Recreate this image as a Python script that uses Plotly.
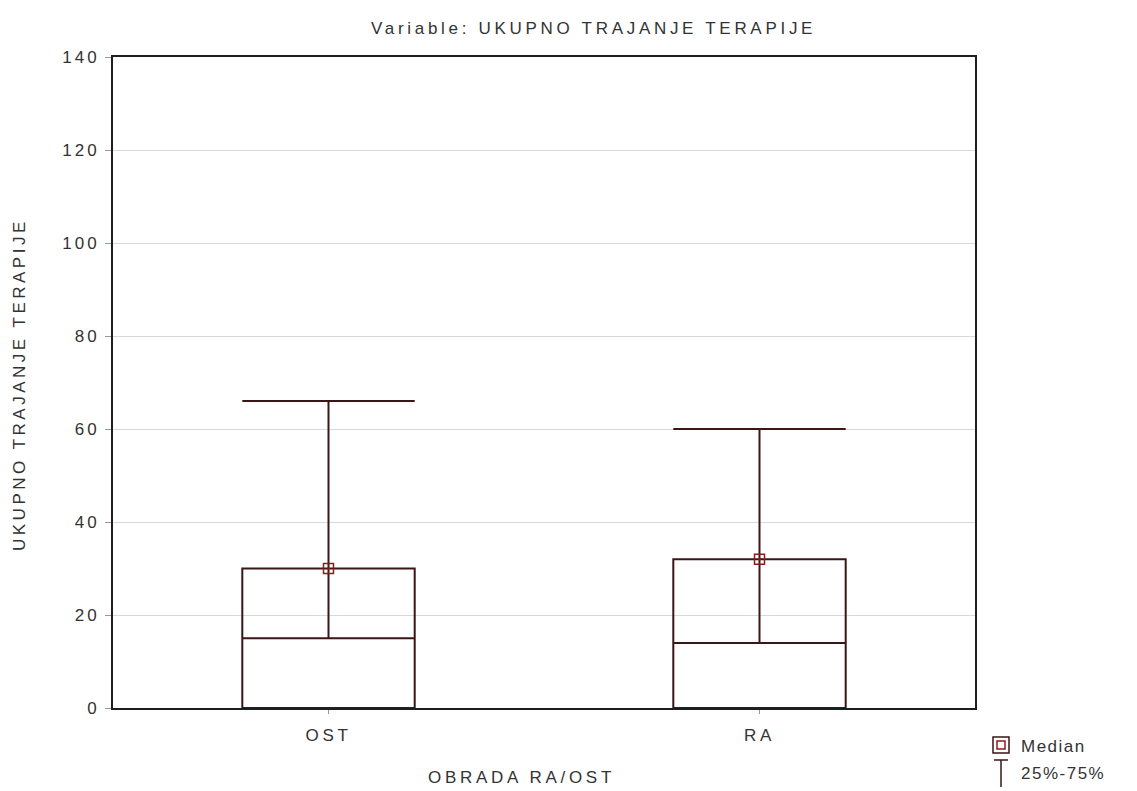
import plotly.graph_objects as go

categories = ["OST", "RA"]
box_bottom = [0, 0]
box_top = [30, 32]
mid_line = [15, 14]
whisker_top = [66, 60]
median = [30, 32]
y_ticks = [0, 20, 40, 60, 80, 100, 120, 140]

LINE = "#3a1616"
MED = "#8b1c1c"
TXT = "#333333"
FAM = "Liberation Sans, Arial, sans-serif"
W = 0.2
FS = 17
LS = 3.7


def sp(t, ls=LS):
    return f'<span style="letter-spacing:{ls}px">{t}</span>'


fig = go.Figure()
for i, c in enumerate(categories):
    fig.add_trace(go.Scatter(
        x=[i - W, i + W, i + W, i - W, i - W],
        y=[box_bottom[i], box_bottom[i], box_top[i], box_top[i], box_bottom[i]],
        mode="lines", line=dict(color=LINE, width=2), showlegend=False, hoverinfo="skip"))
    fig.add_trace(go.Scatter(
        x=[i - W, i + W], y=[mid_line[i], mid_line[i]],
        mode="lines", line=dict(color=LINE, width=2), showlegend=False, hoverinfo="skip"))
    fig.add_trace(go.Scatter(
        x=[i, i, None, i - W, i + W],
        y=[mid_line[i], whisker_top[i], None, whisker_top[i], whisker_top[i]],
        mode="lines", line=dict(color=LINE, width=2), showlegend=False, hoverinfo="skip"))
    fig.add_trace(go.Scatter(
        x=[i], y=[median[i]], mode="markers",
        marker=dict(symbol="square-open-dot", size=10, color=MED, line=dict(width=1.5, color=MED)),
        showlegend=False, hoverinfo="skip"))

# page body has an 8px margin, so the figure is drawn 8px smaller and offset
fig.update_layout(
    width=1129, height=783,
    margin=dict(l=105, r=162, t=49, b=83, autoexpand=False),
    paper_bgcolor="white", plot_bgcolor="white",
    font=dict(family=FAM, size=FS, color=TXT),
    xaxis=dict(range=[-0.5, 1.5], tickvals=[0, 1], ticktext=[sp(c) for c in categories],
               showgrid=False, zeroline=False, showline=True, mirror=True,
               linecolor="#1e1e1e", linewidth=2, ticks="outside", ticklen=4,
               tickcolor="#999999", automargin=False, ticklabelstandoff=7,
               tickfont=dict(family=FAM, size=FS, color=TXT)),
    yaxis=dict(range=[0, 140], tickvals=y_ticks, ticktext=[sp(str(v), 3) for v in y_ticks],
               showgrid=True, gridcolor="#d8d8d8",
               gridwidth=1, zeroline=False, showline=True, mirror=True,
               linecolor="#1e1e1e", linewidth=2, ticks="outside", ticklen=6,
               tickcolor="#999999", automargin=False, ticklabelstandoff=2,
               tickfont=dict(family=FAM, size=FS, color=TXT)),
)


def px(xp):
    return (xp - 113) / 862


def py(yp):
    return (708 - yp) / 651


fig.add_annotation(x=px(593), y=py(28), xref="paper", yref="paper",
                   text=sp("Variable: UKUPNO TRAJANJE TERAPIJE"), showarrow=False,
                   xanchor="center", yanchor="middle", font=dict(family=FAM, size=FS, color=TXT))
fig.add_annotation(x=px(521), y=py(778), xref="paper", yref="paper",
                   text=sp("OBRADA RA/OST"), showarrow=False,
                   xanchor="center", yanchor="middle", font=dict(family=FAM, size=FS, color=TXT))
fig.add_annotation(x=px(19), y=py(385), xref="paper", yref="paper",
                   text=sp("UKUPNO TRAJANJE TERAPIJE", 3.5), showarrow=False, textangle=-90,
                   xanchor="center", yanchor="middle", font=dict(family=FAM, size=FS, color=TXT))

shapes = [
    dict(type="rect", xref="paper", yref="paper", x0=px(993), x1=px(1009), y0=py(753), y1=py(737),
         line=dict(color=LINE, width=1.5)),
    dict(type="rect", xref="paper", yref="paper", x0=px(997), x1=px(1005), y0=py(749), y1=py(741),
         line=dict(color=MED, width=1.5)),
    dict(type="line", xref="paper", yref="paper", x0=px(1001), x1=px(1001), y0=py(760), y1=py(787),
         line=dict(color=LINE, width=1.5)),
    dict(type="line", xref="paper", yref="paper", x0=px(994), x1=px(1008), y0=py(760), y1=py(760),
         line=dict(color=LINE, width=1.5)),
]
fig.update_layout(shapes=shapes)
fig.add_annotation(x=px(1019), y=py(746), xref="paper", yref="paper", text=sp("Median", 1.5),
                   showarrow=False, xanchor="left", yanchor="middle",
                   font=dict(family=FAM, size=FS, color=TXT))
fig.add_annotation(x=px(1019), y=py(773), xref="paper", yref="paper", text=sp("25%-75%", 1.5),
                   showarrow=False, xanchor="left", yanchor="middle",
                   font=dict(family=FAM, size=FS, color=TXT))

fig.write_html("out.html")
